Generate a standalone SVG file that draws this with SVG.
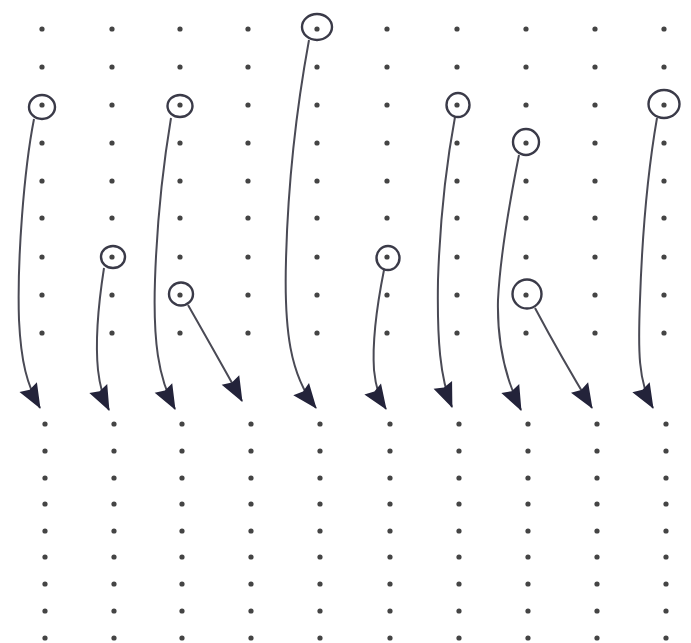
<svg xmlns="http://www.w3.org/2000/svg" xmlns:xlink="http://www.w3.org/1999/xlink" width="691" height="643" viewBox="0 0 691 643">
<style>
.dot{fill:#444;}
.node{fill:none;stroke:#3a3a48;stroke-width:2.4;}
.ndot{fill:#333;}
.edge{fill:none;stroke:#4a4a55;stroke-width:2;marker-end:url(#ah);}
</style>
<defs>
<marker id="ah" markerUnits="userSpaceOnUse" viewBox="-26 -12 28 24" refX="0" refY="0" markerWidth="28" markerHeight="24" orient="auto">
<path d="M1,0 L-24,-10 L-21,0 L-24,10 Z" fill="#23233a"/>
</marker>
<circle id="d" r="2.6" class="dot"/>
</defs>
<rect width="691" height="643" fill="#fff"/>
<g id="grid-top">
<g id="r1"><use href="#d" x="42" y="29"/><use href="#d" x="112" y="29"/><use href="#d" x="180" y="29"/><use href="#d" x="248" y="29"/><use href="#d" x="317" y="29"/><use href="#d" x="387" y="29"/><use href="#d" x="457" y="29"/><use href="#d" x="526" y="29"/><use href="#d" x="595" y="29"/><use href="#d" x="664" y="29"/></g>
<g id="r2"><use href="#d" x="42" y="67"/><use href="#d" x="112" y="67"/><use href="#d" x="180" y="67"/><use href="#d" x="248" y="67"/><use href="#d" x="317" y="67"/><use href="#d" x="387" y="67"/><use href="#d" x="457" y="67"/><use href="#d" x="526" y="67"/><use href="#d" x="595" y="67"/><use href="#d" x="664" y="67"/></g>
<g id="r3"><use href="#d" x="42" y="105"/><use href="#d" x="112" y="105"/><use href="#d" x="180" y="105"/><use href="#d" x="248" y="105"/><use href="#d" x="317" y="105"/><use href="#d" x="387" y="105"/><use href="#d" x="457" y="105"/><use href="#d" x="526" y="105"/><use href="#d" x="595" y="105"/><use href="#d" x="664" y="105"/></g>
<g id="r4"><use href="#d" x="42" y="143"/><use href="#d" x="112" y="143"/><use href="#d" x="180" y="143"/><use href="#d" x="248" y="143"/><use href="#d" x="317" y="143"/><use href="#d" x="387" y="143"/><use href="#d" x="457" y="143"/><use href="#d" x="526" y="143"/><use href="#d" x="595" y="143"/><use href="#d" x="664" y="143"/></g>
<g id="r5"><use href="#d" x="42" y="181"/><use href="#d" x="112" y="181"/><use href="#d" x="180" y="181"/><use href="#d" x="248" y="181"/><use href="#d" x="317" y="181"/><use href="#d" x="387" y="181"/><use href="#d" x="457" y="181"/><use href="#d" x="526" y="181"/><use href="#d" x="595" y="181"/><use href="#d" x="664" y="181"/></g>
<g id="r6"><use href="#d" x="42" y="218"/><use href="#d" x="112" y="218"/><use href="#d" x="180" y="218"/><use href="#d" x="248" y="218"/><use href="#d" x="317" y="218"/><use href="#d" x="387" y="218"/><use href="#d" x="457" y="218"/><use href="#d" x="526" y="218"/><use href="#d" x="595" y="218"/><use href="#d" x="664" y="218"/></g>
<g id="r7"><use href="#d" x="42" y="257"/><use href="#d" x="112" y="257"/><use href="#d" x="180" y="257"/><use href="#d" x="248" y="257"/><use href="#d" x="317" y="257"/><use href="#d" x="387" y="257"/><use href="#d" x="457" y="257"/><use href="#d" x="526" y="257"/><use href="#d" x="595" y="257"/><use href="#d" x="664" y="257"/></g>
<g id="r8"><use href="#d" x="42" y="295"/><use href="#d" x="112" y="295"/><use href="#d" x="180" y="295"/><use href="#d" x="248" y="295"/><use href="#d" x="317" y="295"/><use href="#d" x="387" y="295"/><use href="#d" x="457" y="295"/><use href="#d" x="526" y="295"/><use href="#d" x="595" y="295"/><use href="#d" x="664" y="295"/></g>
<g id="r9"><use href="#d" x="42" y="333"/><use href="#d" x="112" y="333"/><use href="#d" x="180" y="333"/><use href="#d" x="248" y="333"/><use href="#d" x="317" y="333"/><use href="#d" x="387" y="333"/><use href="#d" x="457" y="333"/><use href="#d" x="526" y="333"/><use href="#d" x="595" y="333"/><use href="#d" x="664" y="333"/></g>
</g>
<g id="grid-bottom">
<g id="b1"><use href="#d" x="45" y="424"/><use href="#d" x="114" y="424"/><use href="#d" x="182" y="424"/><use href="#d" x="251" y="424"/><use href="#d" x="320" y="424"/><use href="#d" x="390" y="424"/><use href="#d" x="459" y="424"/><use href="#d" x="528" y="424"/><use href="#d" x="597" y="424"/><use href="#d" x="666" y="424"/></g>
<g id="b2"><use href="#d" x="45" y="451"/><use href="#d" x="114" y="451"/><use href="#d" x="182" y="451"/><use href="#d" x="251" y="451"/><use href="#d" x="320" y="451"/><use href="#d" x="390" y="451"/><use href="#d" x="459" y="451"/><use href="#d" x="528" y="451"/><use href="#d" x="597" y="451"/><use href="#d" x="666" y="451"/></g>
<g id="b3"><use href="#d" x="45" y="478"/><use href="#d" x="114" y="478"/><use href="#d" x="182" y="478"/><use href="#d" x="251" y="478"/><use href="#d" x="320" y="478"/><use href="#d" x="390" y="478"/><use href="#d" x="459" y="478"/><use href="#d" x="528" y="478"/><use href="#d" x="597" y="478"/><use href="#d" x="666" y="478"/></g>
<g id="b4"><use href="#d" x="45" y="504"/><use href="#d" x="114" y="504"/><use href="#d" x="182" y="504"/><use href="#d" x="251" y="504"/><use href="#d" x="320" y="504"/><use href="#d" x="390" y="504"/><use href="#d" x="459" y="504"/><use href="#d" x="528" y="504"/><use href="#d" x="597" y="504"/><use href="#d" x="666" y="504"/></g>
<g id="b5"><use href="#d" x="45" y="531"/><use href="#d" x="114" y="531"/><use href="#d" x="182" y="531"/><use href="#d" x="251" y="531"/><use href="#d" x="320" y="531"/><use href="#d" x="390" y="531"/><use href="#d" x="459" y="531"/><use href="#d" x="528" y="531"/><use href="#d" x="597" y="531"/><use href="#d" x="666" y="531"/></g>
<g id="b6"><use href="#d" x="45" y="557"/><use href="#d" x="114" y="557"/><use href="#d" x="182" y="557"/><use href="#d" x="251" y="557"/><use href="#d" x="320" y="557"/><use href="#d" x="390" y="557"/><use href="#d" x="459" y="557"/><use href="#d" x="528" y="557"/><use href="#d" x="597" y="557"/><use href="#d" x="666" y="557"/></g>
<g id="b7"><use href="#d" x="45" y="584"/><use href="#d" x="114" y="584"/><use href="#d" x="182" y="584"/><use href="#d" x="251" y="584"/><use href="#d" x="320" y="584"/><use href="#d" x="390" y="584"/><use href="#d" x="459" y="584"/><use href="#d" x="528" y="584"/><use href="#d" x="597" y="584"/><use href="#d" x="666" y="584"/></g>
<g id="b8"><use href="#d" x="45" y="611"/><use href="#d" x="114" y="611"/><use href="#d" x="182" y="611"/><use href="#d" x="251" y="611"/><use href="#d" x="320" y="611"/><use href="#d" x="390" y="611"/><use href="#d" x="459" y="611"/><use href="#d" x="528" y="611"/><use href="#d" x="597" y="611"/><use href="#d" x="666" y="611"/></g>
<g id="b9"><use href="#d" x="45" y="638"/><use href="#d" x="114" y="638"/><use href="#d" x="182" y="638"/><use href="#d" x="251" y="638"/><use href="#d" x="320" y="638"/><use href="#d" x="390" y="638"/><use href="#d" x="459" y="638"/><use href="#d" x="528" y="638"/><use href="#d" x="597" y="638"/><use href="#d" x="666" y="638"/></g>
</g>
<g id="connectors">
<path class="edge" d="M34,119 C24,170 17,260 19,320 C21,362 27,385 40,408"/>
<path class="edge" d="M104,268 C99,300 95,340 98,370 C100,388 103,398 109,410"/>
<path class="edge" d="M171,118 C164,160 157,220 155,280 C153,340 158,378 175,409"/>
<path class="edge" d="M188,305 C205,335 225,370 242,401"/>
<path class="edge" d="M309,40 C298,100 288,180 286,260 C284,330 290,375 316,408"/>
<path class="edge" d="M384,270 C378,300 372,340 374,370 C376,390 380,400 386,409"/>
<path class="edge" d="M455,117 C447,160 440,220 438,280 C437,340 440,378 452,407"/>
<path class="edge" d="M519,155 C510,200 500,260 498,300 C497,340 505,378 521,410"/>
<path class="edge" d="M535,308 C552,340 572,375 592,408"/>
<path class="edge" d="M657,118 C648,170 642,240 640,300 C638,350 638,382 653,408"/>
</g>
<g id="n1"><ellipse class="node" cx="42" cy="107" rx="13" ry="12"/></g>
<g id="n2"><ellipse class="node" cx="180" cy="106" rx="12.5" ry="11"/></g>
<g id="n3"><ellipse class="node" cx="317" cy="27" rx="15" ry="13"/></g>
<g id="n4"><ellipse class="node" cx="113" cy="257" rx="12" ry="11"/></g>
<g id="n5"><ellipse class="node" cx="181" cy="294" rx="12" ry="11.5"/></g>
<g id="n6"><ellipse class="node" cx="388" cy="258" rx="11.5" ry="12"/></g>
<g id="n7"><ellipse class="node" cx="458" cy="105" rx="11.5" ry="12"/></g>
<g id="n8"><ellipse class="node" cx="526" cy="142" rx="13" ry="13"/></g>
<g id="n9"><ellipse class="node" cx="527" cy="294" rx="14.5" ry="14.5"/></g>
<g id="n10"><ellipse class="node" cx="664" cy="104" rx="15.5" ry="14"/></g>
</svg>
